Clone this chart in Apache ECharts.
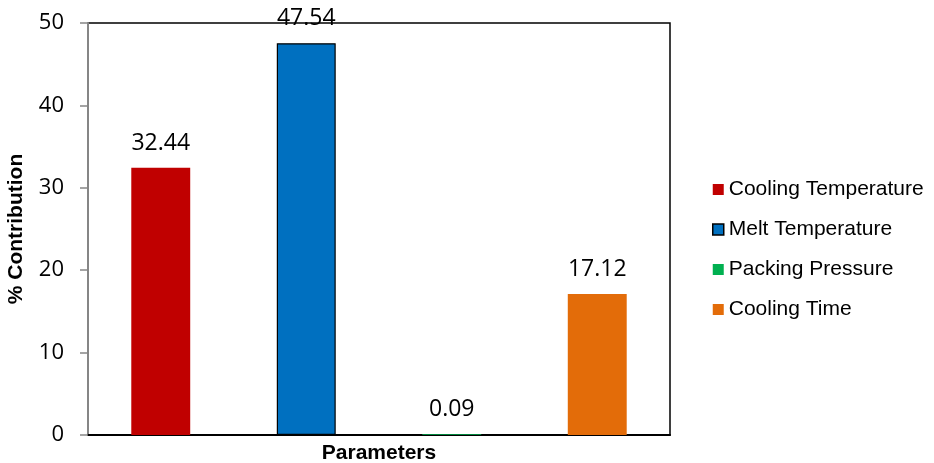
<!DOCTYPE html>
<html>
<head>
<meta charset="utf-8">
<script src="https://cdn.jsdelivr.net/npm/echarts@6/dist/echarts.min.js"></script>
<style>
  html, body { margin: 0; padding: 0; background: #fff; }
  #chart { width: 934px; height: 463px; }
</style>
</head>
<body>
<div id="chart"></div>
<script>
// Process parameters and their percentage contribution
const parameters = ['Cooling Temperature', 'Melt Temperature', 'Packing Pressure', 'Cooling Time'];
const contribution = [32.44, 47.54, 0.09, 17.12];
const colors = ['#C00000', '#0070C0', '#00B050', '#E36C09'];
const yTicks = { min: 0, max: 50, interval: 10 };

const chart = echarts.init(document.getElementById('chart'));

// One series per parameter so each gets its own legend entry;
// stacking keeps each bar centred in its own category slot.
const series = parameters.map((name, i) => ({
  name: name,
  type: 'bar',
  stack: 'all',
  barWidth: '40.5%',
  data: parameters.map((_, j) => (j === i ? contribution[i] : '-')),
  itemStyle: {
    color: colors[i],
    borderColor: i === 1 ? '#000' : colors[i],
    borderWidth: i === 1 ? 1.2 : 0
  },
  label: {
    show: true,
    position: 'top',
    distance: 13,
    color: '#000',
    fontFamily: 'Open Sans',
    fontSize: 23,
    formatter: p => p.value.toFixed(2)
  }
}));

chart.setOption({
  animation: false,
  backgroundColor: '#fff',
  grid: {
    left: 88, top: 23, right: 264, bottom: 28,
    outerBoundsMode: 'none',
    containLabel: false,
    show: true, borderColor: '#000', borderWidth: 1.5
  },
  legend: {
    orient: 'vertical',
    left: 707,
    top: 174,
    itemWidth: 11,
    itemHeight: 11,
    itemGap: 19,
    icon: 'rect',
    textStyle: { fontFamily: 'Liberation Sans', fontSize: 21, color: '#000' },
    data: parameters.map((name, i) => ({
      name: name,
      itemStyle: i === 1 ? { borderColor: '#000', borderWidth: 1.5 } : {}
    }))
  },
  xAxis: {
    type: 'category',
    data: parameters,
    name: 'Parameters',
    nameLocation: 'middle',
    nameGap: 8,
    nameTextStyle: { fontFamily: 'Liberation Sans', fontWeight: 'bold', fontSize: 21, color: '#000' },
    axisLine: { lineStyle: { color: '#000', width: 2 } },
    axisTick: { show: false },
    axisLabel: { show: false }
  },
  yAxis: {
    type: 'value',
    min: yTicks.min,
    max: yTicks.max,
    interval: yTicks.interval,
    name: '% Contribution',
    nameLocation: 'middle',
    nameGap: 61,
    nameTextStyle: { fontFamily: 'Liberation Sans', fontWeight: 'bold', fontSize: 21, color: '#000' },
    axisLine: { show: true, lineStyle: { color: '#868686', width: 2 } },
    axisTick: { show: true, length: 8, lineStyle: { color: '#868686', width: 1.5 } },
    axisLabel: { margin: 24, fontFamily: 'Open Sans', fontSize: 22, color: '#000' },
    splitLine: { show: false }
  },
  series: series
});
</script>
</body>
</html>
